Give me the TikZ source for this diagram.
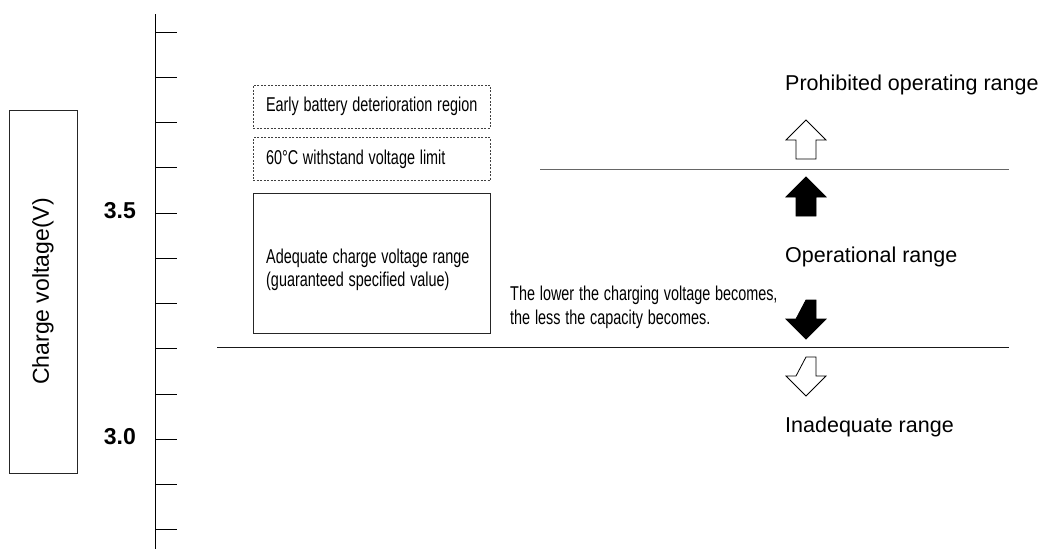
\documentclass[tikz,border=0pt]{standalone}
\usepackage{fontspec}
\usepackage{graphicx}
\setmainfont{Liberation Sans}
\usetikzlibrary{positioning}
\newcommand\narrowtext{\fontsize{20}{23.5}\selectfont}
\newcommand\narrow[1]{\scalebox{0.72}[1]{#1}}

\begin{document}
\begin{tikzpicture}[
  x=1pt, y=-1pt,
  font=\fontsize{21.5}{26}\selectfont,
  axistick/.style={line width=1pt},
  zone/.style={draw=black!75, dash pattern=on 2pt off 1.5pt, line width=0.9pt,
               minimum width=237pt, minimum height=43pt, inner xsep=13pt,
               text width=211pt, font=\narrowtext},
  spec/.style={draw=black!85, line width=1pt, minimum width=237pt, minimum height=140pt},
  note/.style={font=\narrowtext, text width=290pt, inner sep=0pt, anchor=base west},
  rangetext/.style={anchor=base west, inner sep=0pt},
  volt/.style={font=\fontsize{23}{27}\selectfont\bfseries, anchor=base east, inner sep=0pt},
  sep/.style={line width=1pt},
  openArrow/.style={draw=black, line width=0.8pt, fill=white, line join=miter},
  solidArrow/.style={draw=black, line width=0.8pt, fill=black},
]
\useasboundingbox[fill=white] (0,0) rectangle (1042,549);

%% =====================================================
%%  Voltage axis with ticks
%% =====================================================
\coordinate (axTop) at (155,14);
\coordinate (axBot) at (155,549);
\draw[axistick] (axTop) -- (axBot);
\foreach \i in {0,...,11}
  \draw[axistick] (155,32+45.25*\i) -- ++(22,0);

\node[volt] (v35) at (136,218.5) {3.5};
\node[volt] (v30) at (136,444.5) {3.0};

% axis title box
\node[draw=black!85, line width=1pt, rotate=90, minimum width=363pt, minimum height=68pt,
      font=\fontsize{23}{27}\selectfont] (ylab) at (43,291.5) {Charge voltage(V)};

%% =====================================================
%%  Region boxes
%% =====================================================
\node[zone] (early) at (371.5,106.5) {\narrow{Early battery deterioration region}};
\node[zone, below=9pt of early] (lim60) {\narrow{60°C withstand voltage limit}};
\node[spec, below=12pt of lim60] (adeq) {};
\node[note, text width=215pt] (adeqtxt) at (266,263)
     {\narrow{Adequate charge voltage range}\\\narrow{(guaranteed specified value)}};

%% =====================================================
%%  Range limits
%% =====================================================
\coordinate (upL) at (540,169.5);
\coordinate (upR) at (1009,169.5);
\coordinate (loL) at (217,347);
\coordinate (loR) at (1009,347);
\draw[sep, black!60] (upL) -- (upR);
\draw[sep, black!90] (loL) -- (loR);

\node[note] (lowNote) at (510,300.5)
     {\narrow{The lower the charging voltage becomes,}\\\narrow{the less the capacity becomes.}};

% --- block arrows ---
\coordinate (prTip) at (806,120);
\coordinate (opTip) at (806,177);
\coordinate (opTail) at (806,300);
\coordinate (inTail) at (806,357);
\draw[openArrow] (prTip) -- ++(20,20) -- ++(-10,0) -- ++(0,19) -- ++(-20,0)
                 -- ++(0,-19) -- ++(-10,0) -- cycle;
\draw[solidArrow] (opTip) -- ++(20,20) -- ++(-10,0) -- ++(0,19) -- ++(-20,0)
                  -- ++(0,-19) -- ++(-10,0) -- cycle;
\draw[solidArrow] (opTail) -- ++(10,0) -- ++(0,19) -- ++(10,0) -- ++(-20,20)
                  -- ++(-20,-20) -- ++(10,0) -- cycle;
\draw[openArrow] (inTail) -- ++(10,0) -- ++(0,19) -- ++(10,0) -- ++(-20,20)
                 -- ++(-20,-20) -- ++(10,0) -- cycle;

% --- range labels ---
\node[rangetext] (prohib) at (785,90) {Prohibited operating range};
\node[rangetext] (oper) at (785,262) {Operational range};
\node[rangetext] (inadq) at (785,432) {Inadequate range};

\end{tikzpicture}
\end{document}
